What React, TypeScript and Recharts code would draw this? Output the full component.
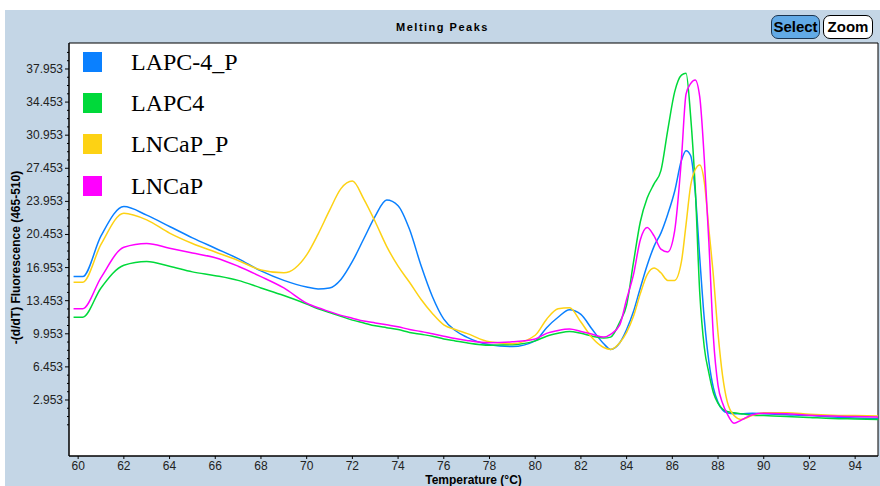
import React from "react";
import {
  LineChart,
  Line,
  XAxis,
  YAxis,
  CartesianGrid,
  ReferenceArea,
  Legend
} from "recharts";

// temperature grid (°C) shared by all four melt curves
const temps = [
  59.8, 60.2, 61, 62, 63, 64, 65, 66, 67, 68,
  69, 70, 70.5, 71, 71.5, 72, 72.5, 73, 73.5, 74,
  74.5, 75, 75.5, 76, 76.5, 77, 78, 79, 80, 80.5,
  81, 81.5, 82, 82.5, 83, 83.3, 83.7, 84, 84.3, 84.6,
  84.9, 85.2, 85.5, 85.8, 86.1, 86.4, 86.6, 86.8, 87, 87.2,
  87.4, 87.6, 87.8, 88, 88.2, 88.4, 88.7, 89, 89.5, 90,
  91, 92, 93, 94, 95
];

const lapc4P = [
  16.0, 16.0, 20.3, 23.4, 22.5, 21.3, 20.1, 19.0, 17.9, 16.6,
  15.6, 14.9, 14.7, 14.8, 15.7, 17.6, 20.0, 22.4, 24.1, 23.5,
  21.0, 17.2, 13.9, 11.5, 10.3, 9.6, 8.8, 8.6, 9.2, 10.6,
  11.7, 12.5, 12.0, 10.4, 8.9, 8.3, 9.0, 10.4, 12.3, 14.8,
  17.2, 19.2, 20.6, 22.6, 25.0, 28.3, 29.3, 28.8, 25.0, 18.0,
  11.5, 7.0, 4.2, 2.7, 1.9, 1.6, 1.5, 1.5, 1.55, 1.5,
  1.4, 1.3, 1.15, 1.05, 1.0
];

const lapc4 = [
  11.7, 11.7, 14.8, 17.2, 17.6, 17.1, 16.5, 16.1, 15.6, 14.8,
  14.0, 13.1, 12.6, 12.2, 11.8, 11.4, 11.1, 10.8, 10.6, 10.4,
  10.1, 9.9, 9.7, 9.4, 9.2, 9.0, 8.75, 8.8, 9.2, 9.7,
  10.0, 10.2, 10.0, 9.7, 9.5, 9.6, 11.2, 13.0, 17.5, 21.8,
  24.3, 25.8, 27.2, 31.5, 35.5, 37.3, 37.5, 33.0, 25.5, 14.3,
  8.5, 5.8, 3.7, 2.6, 2.0, 1.75, 1.6, 1.5, 1.35, 1.3,
  1.2, 1.1, 1.0, 0.95, 0.9
];

const lncapP = [
  15.4, 15.4, 19.4, 22.7, 22.0, 20.6, 19.5, 18.6, 17.7, 16.7,
  16.4, 18.3, 20.5, 23.0, 25.3, 26.1, 24.2, 21.8, 19.2, 17.1,
  15.4, 13.6, 12.1, 10.9, 10.4, 10.0, 9.1, 8.9, 9.8, 11.5,
  12.6, 12.7, 11.2, 9.5, 8.5, 8.3, 9.0, 10.1, 11.8, 14.2,
  16.2, 16.9, 16.4, 15.6, 15.6, 17.6, 21.5, 25.6, 27.3, 27.8,
  26.0, 21.0, 16.0, 10.0, 5.5, 2.8, 1.3, 0.9, 1.3, 1.6,
  1.6, 1.45, 1.35, 1.3, 1.25
];

const lncap = [
  12.6, 12.6, 15.9, 19.1, 19.5, 19.0, 18.5, 18.0, 17.1, 16.0,
  14.8, 13.2, 12.7, 12.3, 11.9, 11.6, 11.3, 11.1, 10.9, 10.7,
  10.4, 10.2, 9.95, 9.7, 9.45, 9.25, 9.0, 9.1, 9.4, 10.0,
  10.3, 10.45, 10.2, 9.9, 9.6, 9.9, 10.9, 13.6, 16.2, 19.9,
  21.2, 20.3, 18.9, 18.6, 20.8, 28.5, 35.3, 36.4, 36.8, 35.0,
  28.4, 19.6, 9.5, 4.5, 2.6, 1.5, 0.5, 0.8, 1.4, 1.55,
  1.5, 1.35, 1.25, 1.2, 1.15
];

const series = [
  { key: "lapc4P", name: "LAPC-4_P", color: "#0a80ff" },
  { key: "lapc4", name: "LAPC4", color: "#00d93a" },
  { key: "lncapP", name: "LNCaP_P", color: "#fdd214" },
  { key: "lncap", name: "LNCaP", color: "#ff00ff" }
];

const xTicks = [60, 62, 64, 66, 68, 70, 72, 74, 76, 78, 80, 82, 84, 86, 88, 90, 92, 94];
const yMajorTicks = [2.953, 6.453, 9.953, 13.453, 16.953, 20.453, 23.953, 27.453, 30.953, 34.453, 37.953];

// three minor ticks between each major, plus two above the top major
const yMinorTicks = [
  ...yMajorTicks.flatMap((m) => [m - 2.625, m - 1.75, m - 0.875]),
  37.953 + 0.875,
  37.953 + 1.75
];
const yTicks = [...yMajorTicks, ...yMinorTicks].sort((a, b) => a - b);

const data = temps.map((t, i) => ({
  t,
  lapc4P: lapc4P[i],
  lapc4: lapc4[i],
  lncapP: lncapP[i],
  lncap: lncap[i]
}));

const tickFont = "'Liberation Sans', Arial, sans-serif";
const PANEL = "#c4d6e6";

const YTick = (props: any) => {
  const { x, y, payload } = props;
  const major = yMajorTicks.includes(payload.value);
  const axisX = x + 6; // tickSize 4 + tickMargin 2
  return (
    <g>
      <line x1={axisX} x2={axisX - (major ? 4 : 2)} y1={y} y2={y} stroke="#000" />
      {major && (
        <text
          x={x}
          y={y}
          dy={4}
          textAnchor="end"
          fontSize={12}
          fontFamily={tickFont}
          fill="#222"
        >
          {payload.value}
        </text>
      )}
    </g>
  );
};

const YLabel = (props: any) => {
  const { viewBox } = props;
  const cx = viewBox.x + 7;
  const cy = viewBox.y + viewBox.height / 2 + 8;
  return (
    <text
      x={cx}
      y={cy}
      transform={`rotate(-90 ${cx} ${cy})`}
      textAnchor="middle"
      dominantBaseline="central"
      fontSize={12}
      fontWeight="bold"
      fontFamily={tickFont}
      fill="#000"
    >
      -(d/dT) Fluorescence (465-510)
    </text>
  );
};

// keep legend rows in the series order (recharts sorts by name otherwise)
const renderLegend = (props: any) => {
  const payload = props.payload || [];
  const rows = series
    .map((s) => payload.find((p: any) => p.value === s.name))
    .filter(Boolean);
  return (
    <div>
      {rows.map((entry: any) => (
        <div
          key={entry.value}
          style={{ display: "flex", alignItems: "center", height: 41.3 }}
        >
          <div
            style={{
              width: 19,
              height: 20,
              background: entry.color,
              marginRight: 29
            }}
          />
          <span
            style={{
              fontFamily: "'Liberation Serif', 'Times New Roman', serif",
              fontSize: 24,
              color: "#000",
              lineHeight: "24px"
            }}
          >
            {entry.value}
          </span>
        </div>
      ))}
    </div>
  );
};

const buttonBase: React.CSSProperties = {
  position: "absolute",
  top: 15,
  height: 24,
  boxSizing: "border-box",
  borderRadius: 7,
  fontFamily: "'Liberation Sans Narrow', 'Liberation Sans', sans-serif",
  fontWeight: "bold",
  fontSize: 15,
  lineHeight: "22px",
  textAlign: "center",
  color: "#000"
};

const App: React.FC = () => {
  return (
    <div
      style={{
        position: "absolute",
        left: 0,
        top: 0,
        width: 880,
        height: 486,
        background: "#fff",
        overflow: "hidden"
      }}
    >
      <div
        style={{
          position: "absolute",
          left: 5,
          top: 10,
          width: 875,
          height: 476,
          background: PANEL
        }}
      />
      <div
        style={{
          position: "absolute",
          left: 5,
          top: 21,
          width: 875,
          textAlign: "center",
          fontFamily: tickFont,
          fontWeight: "bold",
          fontSize: 11,
          letterSpacing: 1.5,
          color: "#000"
        }}
      >
        Melting Peaks
      </div>
      <div
        style={{
          ...buttonBase,
          left: 771,
          width: 49,
          background: "#62aae6",
          border: "1.5px solid #1c3550"
        }}
      >
        Select
      </div>
      <div
        style={{
          ...buttonBase,
          left: 823,
          width: 50,
          background: "#fff",
          border: "1px solid #000"
        }}
      >
        Zoom
      </div>

      <div style={{ position: "absolute", left: 0, top: 0 }}>
        <LineChart
          width={880}
          height={486}
          data={data}
          margin={{ top: 43, right: 2, left: 9, bottom: 0 }}
        >
          <CartesianGrid horizontal={false} vertical={false} fill="#fff" />
          <XAxis
            dataKey="t"
            type="number"
            domain={[59.6, 95]}
            allowDataOverflow
            ticks={xTicks}
            interval={0}
            height={30}
            tickSize={3}
            tickMargin={2}
            stroke="#000"
            tick={{ fill: "#222", fontSize: 12, fontFamily: tickFont }}
            label={{
              value: "Temperature (°C)",
              position: "insideBottom",
              offset: 2,
              style: {
                fontSize: 12,
                fontWeight: "bold",
                fontFamily: tickFont,
                fill: "#000"
              }
            }}
          />
          <YAxis
            type="number"
            domain={[-2.97, 40.7]}
            allowDataOverflow
            ticks={yTicks}
            interval={0}
            width={60}
            tickSize={4}
            tickMargin={2}
            tickLine={false}
            stroke="#000"
            tick={<YTick />}
            label={<YLabel />}
          />
          <ReferenceArea
            x1={59.6}
            x2={95}
            y1={-2.97}
            y2={40.7}
            fill="none"
            stroke="#000"
            strokeWidth={1}
            ifOverflow="visible"
          />
          <Legend
            layout="vertical"
            align="center"
            verticalAlign="middle"
            itemSorter={null}
            content={renderLegend}
            wrapperStyle={{ left: 83, top: 41, width: 220 }}
          />
          {series.map((s) => (
            <Line
              key={s.key}
              type="monotone"
              dataKey={s.key}
              name={s.name}
              stroke={s.color}
              strokeWidth={1.5}
              dot={false}
              isAnimationActive={false}
              legendType="square"
            />
          ))}
        </LineChart>
      </div>
    </div>
  );
};

export default App;
